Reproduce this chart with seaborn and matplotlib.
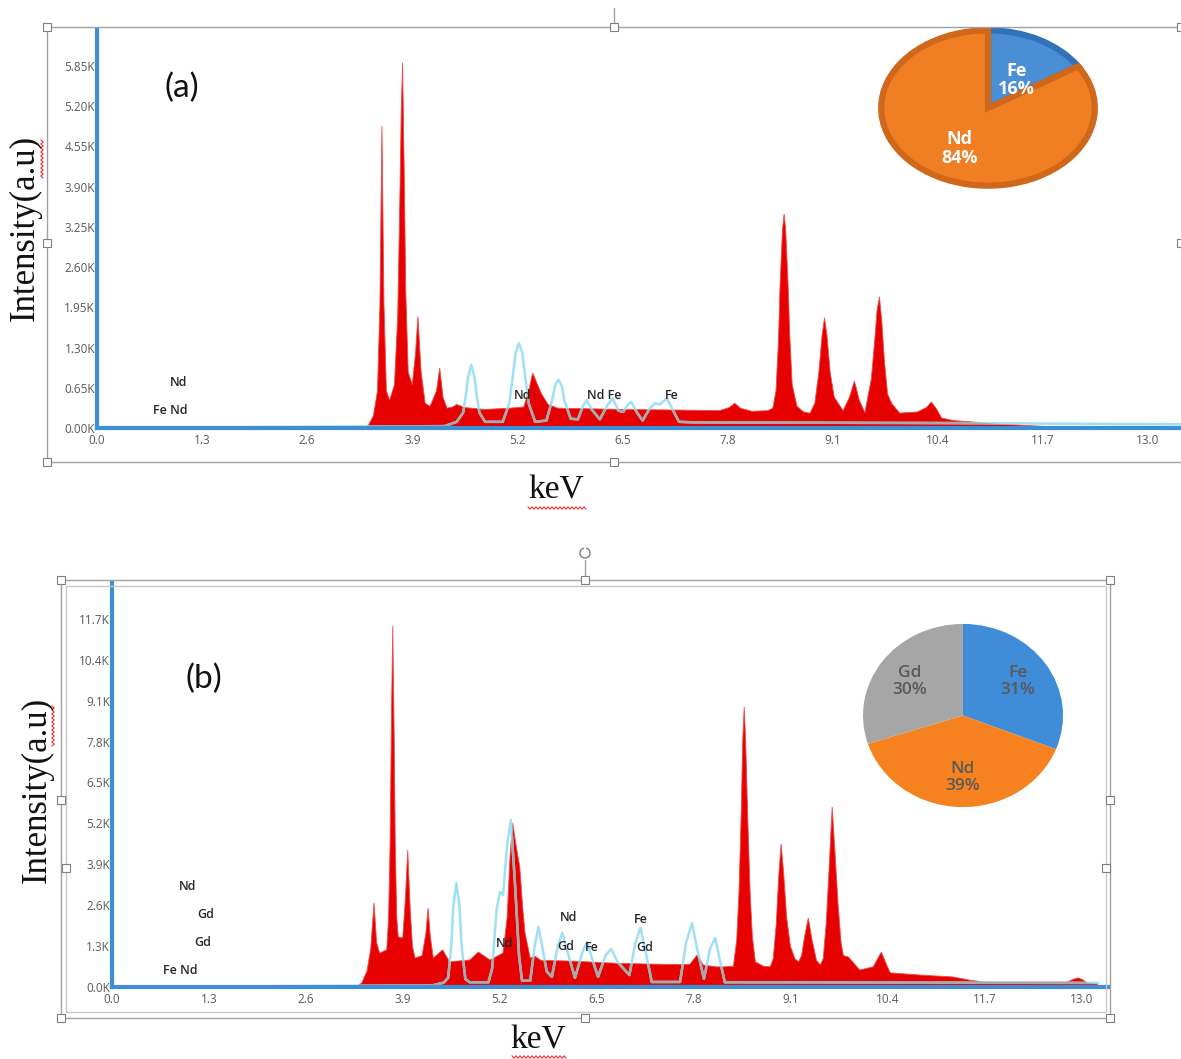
import numpy as np
import matplotlib
matplotlib.use("Agg")
import matplotlib.pyplot as plt
import seaborn as sns
from matplotlib.lines import Line2D
from matplotlib.patches import Rectangle

# ---------------- data ----------------
# (a) spectrum: energy (keV) / intensity (K counts)
a_red_kev = [0.00, 3.30, 3.36, 3.42, 3.47, 3.50, 3.525, 3.55, 3.58, 3.62, 3.68, 3.72, 3.745, 3.765,
             3.78, 3.80, 3.82, 3.85, 3.90, 3.94, 3.97, 4.01, 4.06, 4.12, 4.20, 4.24, 4.28, 4.33,
             4.40, 4.45, 4.55, 4.80, 5.10, 5.28, 5.34, 5.39, 5.45, 5.50, 5.58, 5.70, 6.50, 7.20,
             7.70, 7.82, 7.89, 7.96, 8.10, 8.30, 8.36, 8.40, 8.43, 8.45, 8.48, 8.50, 8.52, 8.55,
             8.57, 8.60, 8.66, 8.74, 8.82, 8.88, 8.93, 8.97, 9.00, 9.03, 9.07, 9.12, 9.23, 9.31,
             9.37, 9.43, 9.50, 9.58, 9.62, 9.65, 9.68, 9.71, 9.74, 9.78, 9.83, 9.93, 10.15,
             10.26, 10.32, 10.38, 10.45, 10.60, 11.00, 11.50, 11.80, 12.00, 13.41]
a_red_int = [0.00, 0.00, 0.05, 0.20, 0.60, 2.00, 4.88, 2.00, 0.60, 0.45, 0.70, 1.80, 3.60, 5.20,
             5.90, 4.20, 2.20, 0.90, 0.70, 1.20, 1.80, 0.90, 0.40, 0.35, 0.60, 0.97, 0.50, 0.32,
             0.34, 0.38, 0.33, 0.30, 0.32, 0.34, 0.60, 0.89, 0.70, 0.55, 0.38, 0.32, 0.30, 0.29,
             0.28, 0.33, 0.40, 0.32, 0.27, 0.28, 0.32, 0.60, 1.40, 2.30, 3.20, 3.46, 3.20, 2.30,
             1.50, 0.70, 0.35, 0.26, 0.24, 0.40, 0.90, 1.50, 1.78, 1.50, 0.90, 0.50, 0.28, 0.50,
             0.76, 0.45, 0.25, 0.80, 1.40, 1.90, 2.12, 1.70, 1.10, 0.55, 0.40, 0.24, 0.26,
             0.33, 0.42, 0.32, 0.16, 0.12, 0.08, 0.04, 0.02, 0.00, 0.00]
a_ref_kev = [0.00, 4.30, 4.45, 4.53, 4.56, 4.59, 4.63, 4.67, 4.70, 4.73, 4.80, 5.02, 5.10, 5.14,
             5.18, 5.22, 5.26, 5.30, 5.34, 5.42, 5.56, 5.63, 5.67, 5.71, 5.75, 5.78, 5.86, 5.95,
             6.01, 6.06, 6.12, 6.22, 6.32, 6.38, 6.45, 6.51, 6.57, 6.61, 6.68, 6.75, 6.83, 6.90,
             6.96, 7.05, 7.12, 7.20, 7.40, 10.5, 13.41]
a_ref_int = [0.00, 0.03, 0.10, 0.25, 0.50, 0.82, 1.02, 0.82, 0.50, 0.25, 0.10, 0.10, 0.40, 0.80,
             1.22, 1.37, 1.22, 0.80, 0.40, 0.10, 0.12, 0.45, 0.70, 0.78, 0.68, 0.45, 0.15, 0.14,
             0.35, 0.45, 0.30, 0.14, 0.38, 0.48, 0.28, 0.26, 0.38, 0.42, 0.25, 0.12, 0.30, 0.40,
             0.38, 0.48, 0.30, 0.10, 0.09, 0.08, 0.06]

# (b) spectrum
b_red_kev = [0.00, 3.28, 3.35, 3.42, 3.47, 3.515, 3.55, 3.59, 3.685, 3.71, 3.73, 3.75, 3.766,
             3.785, 3.80, 3.82, 3.84, 3.90, 3.935, 3.967, 4.00, 4.03, 4.065, 4.16, 4.21, 4.24,
             4.27, 4.31, 4.435, 4.53, 4.80, 4.915, 5.07, 5.245, 5.30, 5.34, 5.375, 5.42, 5.47,
             5.51, 5.54, 5.61, 5.675, 5.75, 6.20, 6.80, 7.40, 7.75, 7.85, 7.93, 8.10, 8.20,
             8.335, 8.38, 8.41, 8.44, 8.46, 8.48, 8.50, 8.53, 8.56, 8.59, 8.63, 8.74, 8.83,
             8.87, 8.91, 8.945, 8.975, 9.01, 9.05, 9.10, 9.16, 9.21, 9.25, 9.29, 9.34, 9.39,
             9.45, 9.50, 9.54, 9.58, 9.62, 9.66, 9.70, 9.74, 9.78, 9.81, 9.88, 10.03, 10.21,
             10.32, 10.40, 10.44, 10.84, 11.28, 11.50, 11.69, 12.81, 12.90, 12.96, 13.03, 13.08,
             13.22, 13.23]
b_red_int = [0.00, 0.00, 0.13, 0.50, 1.20, 2.67, 1.40, 1.08, 1.18, 2.20, 4.50, 8.80, 11.47,
             8.00, 4.50, 2.20, 1.59, 1.56, 2.80, 4.35, 2.50, 1.30, 0.92, 1.00, 1.70, 2.51,
             1.60, 0.92, 1.18, 0.80, 0.86, 1.11, 0.86, 1.08, 2.20, 4.20, 5.21, 4.50, 3.81,
             2.50, 1.72, 0.92, 0.98, 0.85, 0.82, 0.75, 0.72, 0.72, 1.02, 0.70, 0.64, 0.64,
             0.66, 1.50, 3.00, 5.50, 7.80, 8.90, 7.80, 5.20, 3.00, 1.60, 0.80, 0.66, 0.64,
             0.90, 2.00, 3.60, 4.55, 3.60, 2.20, 1.30, 0.90, 0.80, 1.00, 1.60, 2.19, 1.50,
             0.85, 0.70, 0.90, 2.00, 3.80, 5.72, 4.20, 2.60, 1.40, 1.00, 0.95, 0.54, 0.64,
             1.11, 0.65, 0.45, 0.38, 0.32, 0.22, 0.16, 0.16, 0.25, 0.29, 0.22, 0.13,
             0.10, 0.00]
b_ref_kev = [0.00, 4.30, 4.45, 4.51, 4.55, 4.58, 4.62, 4.66, 4.69, 4.74, 4.80, 5.05, 5.10, 5.16,
             5.205, 5.245, 5.30, 5.35, 5.40, 5.46, 5.50, 5.61, 5.67, 5.72, 5.77, 5.83, 5.90, 5.98,
             6.04, 6.10, 6.21, 6.31, 6.37, 6.44, 6.52, 6.62, 6.695, 6.78, 6.94, 7.02, 7.09, 7.16,
             7.24, 7.62, 7.70, 7.78, 7.85, 7.94, 8.02, 8.09, 8.15, 8.22, 13.23]
b_ref_int = [0.00, 0.05, 0.14, 0.30, 1.30, 2.60, 3.30, 2.60, 1.30, 0.25, 0.15, 0.15, 0.60, 2.50,
             3.02, 2.92, 4.50, 5.31, 3.50, 1.00, 0.20, 0.20, 1.30, 1.91, 1.30, 0.50, 0.32, 1.30,
             1.72, 1.20, 0.29, 1.10, 1.43, 0.90, 0.32, 1.00, 1.21, 0.80, 0.38, 1.40, 1.88, 1.10,
             0.16, 0.16, 1.40, 2.03, 1.20, 0.26, 1.20, 1.56, 0.90, 0.15, 0.13]

# axis ticks
a_yticks = [0.00, 0.65, 1.30, 1.95, 2.60, 3.25, 3.90, 4.55, 5.20, 5.85]
b_yticks = [0.0, 1.3, 2.6, 3.9, 5.2, 6.5, 7.8, 9.1, 10.4, 11.7]
xticks = [0.0, 1.3, 2.6, 3.9, 5.2, 6.5, 7.8, 9.1, 10.4, 11.7, 13.0]

# peak annotations (text, keV, K)
a_labels = [("Nd", 1.01, 0.73), ("Fe Nd", 0.90, 0.29), ("Nd", 5.27, 0.53),
            ("Nd Fe", 6.28, 0.53), ("Fe", 7.11, 0.52)]
b_labels = [("Nd", 1.02, 3.18), ("Gd", 1.25, 2.29), ("Gd", 1.22, 1.40), ("Fe Nd", 0.91, 0.54),
            ("Nd", 5.26, 1.37), ("Nd", 6.12, 2.22), ("Gd", 6.09, 1.30), ("Fe", 6.44, 1.24),
            ("Fe", 7.10, 2.13), ("Gd", 7.15, 1.27)]

# compositions
a_elements = ["Fe", "Nd"]
a_percent = [16, 84]
b_elements = ["Fe", "Nd", "Gd"]
b_percent = [31, 39, 30]

# ---------------- style ----------------
sns.set_theme(style="white")
plt.rcParams["font.family"] = ["Open Sans", "DejaVu Sans"]

W, H = 1181, 1059
fig = plt.figure(figsize=(W / 100, H / 100), dpi=100)
fig.patch.set_facecolor("white")

RED = "#E60000"
CYAN = "#A0E0F5"
GRAY = "#A8A8A8"
AXBLUE = "#3E8ED6"
TICKC = "#595959"
SERIF = ["Liberation Serif", "DejaVu Serif"]


def fbox(x0, y0, x1, y1):
    return [x0 / W, 1 - y1 / H, (x1 - x0) / W, (y1 - y0) / H]


def fline(xs, ys, **kw):
    fig.add_artist(Line2D([x / W for x in xs], [1 - y / H for y in ys],
                          transform=fig.transFigure, **kw))


def handle(x, y, s=8):
    fig.add_artist(Rectangle(((x - s / 2) / W, 1 - (y + s / 2) / H), s / W, s / H,
                             transform=fig.transFigure, facecolor="white",
                             edgecolor="#7f7f7f", lw=0.8, zorder=10))


def squiggle(x0, x1, y, vertical=False):
    t = np.arange(0, abs(x1 - x0) + 0.1, 2.0)
    z = np.where((np.arange(len(t)) % 2) == 0, -1.2, 1.2)
    if vertical:
        fline([y + v for v in z], [x0 + v for v in t], color="#E03030", lw=0.8)
    else:
        fline([x0 + v for v in t], [y + v for v in z], color="#E03030", lw=0.8)


def spectrum_panel(box, red_k, red_i, ref_k, ref_i, xmax, ymax, yticks, yfmt, labels):
    ax = fig.add_axes(box)
    poly = ax.fill(red_k, red_i, facecolor=RED, edgecolor="#F24A4A", lw=0.6, zorder=2)[0]
    sns.lineplot(x=ref_k, y=ref_i, ax=ax, color=CYAN, lw=1.8, sort=False, estimator=None,
                 zorder=3)
    sns.lineplot(x=ref_k, y=ref_i, ax=ax, color=GRAY, lw=1.8, sort=False, estimator=None,
                 zorder=4)
    ax.lines[-1].set_clip_path(poly)
    ax.set_xlim(0, xmax)
    ax.set_ylim(0, ymax)
    ax.set_xticks(xticks)
    ax.set_xticklabels([f"{v:.1f}" for v in xticks])
    ax.set_yticks(yticks)
    ax.set_yticklabels([yfmt.format(v) for v in yticks])
    ax.tick_params(axis="both", length=0, labelsize=8.5, labelcolor=TICKC)
    ax.tick_params(axis="x", pad=4.5)
    ax.tick_params(axis="y", pad=1.5)
    for s in ["top", "right"]:
        ax.spines[s].set_visible(False)
    for s in ["left", "bottom"]:
        ax.spines[s].set_color(AXBLUE)
        ax.spines[s].set_linewidth(3)
        ax.spines[s].set_zorder(6)
    ax.set_xlabel("")
    ax.set_ylabel("")
    ax.patch.set_alpha(0)
    for txt, kx, ky in labels:
        ax.text(kx, ky, txt, ha="center", va="center", fontsize=9, color="#262626",
                fontweight="semibold", zorder=7)
    return ax


# ---------------- panel (a) ----------------
ax1 = spectrum_panel(fbox(97, 30, 1181, 428), a_red_kev, a_red_int, a_ref_kev, a_ref_int,
                     13.41, 6.43, a_yticks, "{:.2f}K", a_labels)
fig.text(182 / W, 1 - 88 / H, "(a)", fontsize=24, ha="center", va="center",
         family=["Lato", "DejaVu Sans"], color="#111111")
fig.text(25 / W, 1 - 228 / H, "Intensity(a.u)", rotation=90, fontsize=25, ha="center",
         va="center", family=SERIF, color="#111111")
fig.text(556 / W, 1 - 490 / H, "keV", fontsize=24, ha="center", va="center",
         family=SERIF, color="#111111")
squiggle(528, 586, 508)
squiggle(140, 178, 42, vertical=True)

# ---------------- panel (b) ----------------
ax2 = spectrum_panel(fbox(112, 583, 1108, 987), b_red_kev, b_red_int, b_ref_kev, b_ref_int,
                     13.36, 12.84, b_yticks, "{:.1f}K", b_labels)
fig.text(204 / W, 1 - 679 / H, "(b)", fontsize=24, ha="center", va="center",
         family=["Lato", "DejaVu Sans"], color="#111111")
fig.text(37 / W, 1 - 790 / H, "Intensity(a.u)", rotation=90, fontsize=25, ha="center",
         va="center", family=SERIF, color="#111111")
fig.text(538 / W, 1 - 1040 / H, "keV", fontsize=24, ha="center", va="center",
         family=SERIF, color="#111111")
squiggle(512, 566, 1057)
squiggle(706, 746, 53, vertical=True)

# ---------------- pie (a) ----------------
pa = fig.add_axes(fbox(878, 28, 1098, 188))
wa, _ = pa.pie(a_percent, startangle=90, counterclock=False,
               colors=["#4A8FD6", "#F07F24"],
               wedgeprops=dict(linewidth=4.5))
wa[0].set_edgecolor("#3272B8")
wa[1].set_edgecolor("#D0681C")
pa.set_aspect("auto")
pa.set_xlim(-1.03, 1.03)
pa.set_ylim(-1.03, 1.03)
pa.text(0.27, 0.36, f"{a_elements[0]}\n{a_percent[0]}%", ha="center", va="center",
        color="white", fontsize=13, fontweight="bold", linespacing=1.05)
pa.text(-0.27, -0.52, f"{a_elements[1]}\n{a_percent[1]}%", ha="center", va="center",
        color="white", fontsize=13, fontweight="bold", linespacing=1.05)

# ---------------- pie (b) ----------------
pb = fig.add_axes(fbox(862, 623, 1064, 808))
wb, _ = pb.pie(b_percent, startangle=90, counterclock=False,
               colors=["#3F8DD8", "#F5821F", "#A6A6A6"],
               wedgeprops=dict(linewidth=0))
pb.set_aspect("auto")
pb.set_xlim(-1.01, 1.01)
pb.set_ylim(-1.01, 1.01)
for (nm, pc), (tx, ty) in zip(zip(b_elements, b_percent),
                              [(0.55, 0.37), (0.0, -0.68), (-0.53, 0.37)]):
    pb.text(tx, ty, f"{nm}\n{pc}%", ha="center", va="center", color="#595959",
            fontsize=12.5, fontweight="semibold", linespacing=1.1)

# ---------------- selection frames (document screenshot) ----------------
fcol = "#A0A0A0"
fline([47, 1181], [27, 27], color=fcol, lw=1)
fline([47, 47], [27, 462], color=fcol, lw=1)
fline([47, 1181], [462, 462], color=fcol, lw=1)
fline([614, 614], [8, 27], color=fcol, lw=1)
for hx, hy in [(47, 27), (614, 27), (47, 243), (47, 462), (614, 462), (1181, 243), (1181, 27)]:
    handle(hx, hy)

fline([61, 1110, 1110, 61, 61], [580, 580, 1018, 1018, 580], color=fcol, lw=1)
fline([66, 1106, 1106, 66, 66], [586, 586, 1012, 1012, 586], color="#C8C8C8", lw=1)
fline([585, 585], [560, 580], color=fcol, lw=1)
for hx, hy in [(61, 580), (585, 580), (1110, 580), (61, 800), (1110, 800), (61, 1018),
               (585, 1018), (1110, 1018), (66, 868), (1106, 868)]:
    handle(hx, hy)
th = np.linspace(0.3, 2 * np.pi - 0.3, 40)
fline(list(585 + 5 * np.sin(th)), list(553 - 5 * np.cos(th)), color="#7f7f7f", lw=1)

fig.savefig("out.png", dpi=100)
